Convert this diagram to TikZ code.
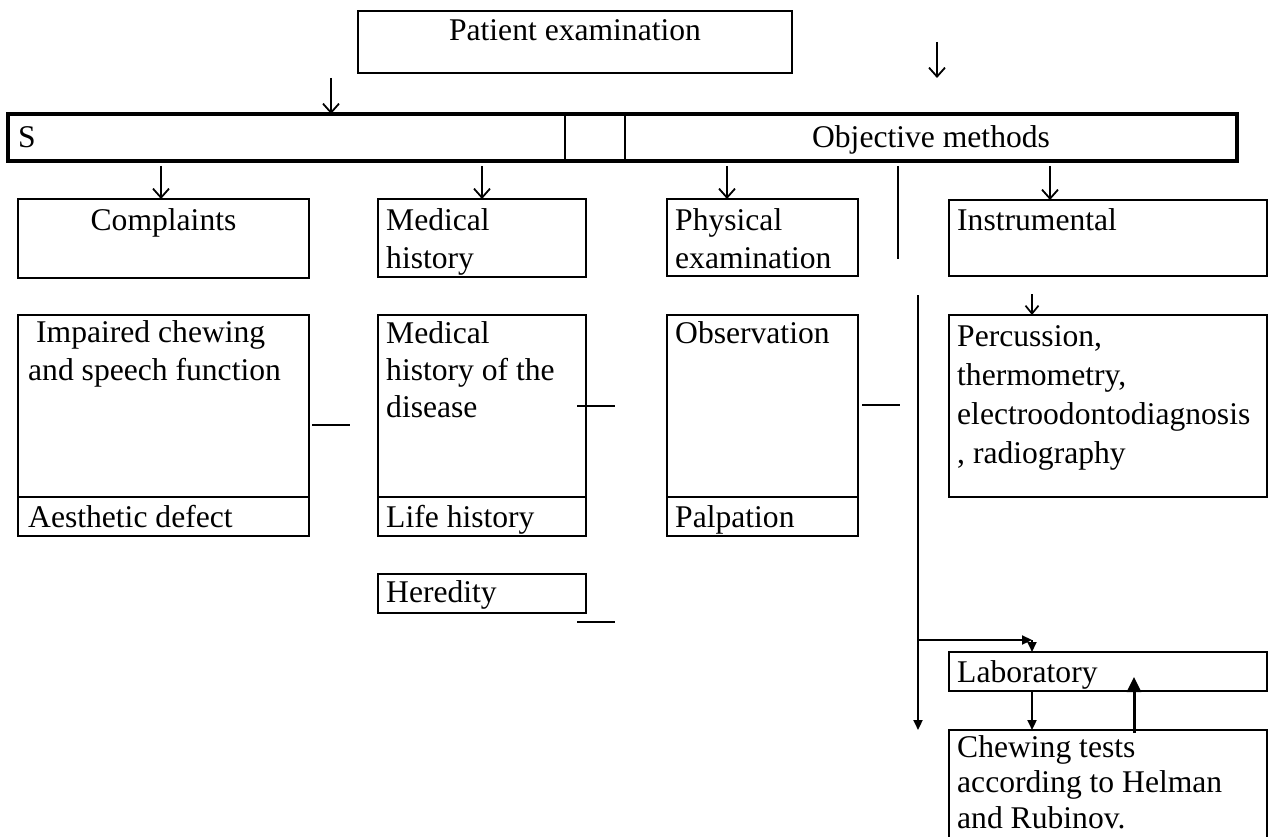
\documentclass[tikz,border=0pt]{standalone}
\usepackage{fontspec}
\setmainfont{Liberation Serif}
\usetikzlibrary{arrows.meta,calc}
\begin{document}
\begin{tikzpicture}[x=1pt,y=-1pt,
  box/.style={draw, line width=2pt, anchor=north west, inner sep=0pt, outer sep=0pt},
  txt/.style={anchor=base west, inner sep=0pt, align=left, font=\fontsize{31.6}{38}\selectfont},
  ctxt/.style={txt, anchor=base},
  varr/.style={line width=1.8pt, -{Straight Barb[length=9pt,width=16pt]}},
  sarr/.style={line width=1.7pt, -{Straight Barb[length=8pt,width=13pt]}},
  tarr/.style={line width=2.2pt, -{Triangle[length=10pt,width=9pt]}},
  uarr/.style={line width=3pt, -{Triangle[length=15pt,width=14pt]}},
  dashln/.style={line width=2.2pt},
]
\path[use as bounding box] (0,0) rectangle (1274,837);
\clip (0,0) rectangle (1274,837);

% top box
\node[box, minimum width=434pt, minimum height=62pt] (pat) at (358,11) {};
\node[ctxt] (patT) at (575,41) {Patient examination};

% main bar
\node[box, line width=3.5pt, minimum width=1229pt, minimum height=47pt] (bar) at (8,114) {};
\coordinate (dv1) at (565,114);
\coordinate (dv2) at (625,114);
\draw[line width=2pt] (dv1) -- (dv1 |- bar.south);
\draw[line width=2pt] (dv2) -- (dv2 |- bar.south);
\node[txt] (sT) at (18,148) {S};
\node[ctxt] (objT) at (931,148) {Objective methods};

% top arrows
\coordinate (ra1) at (937,42);
\coordinate (ra2) at (937,78);
\draw[varr] (ra1) -- (ra2);
\coordinate (la1) at (331,78);
\draw[varr] (la1) -- (la1 |- bar.north);

% first row boxes
\node[box, minimum width=291pt, minimum height=79pt] (cmp) at (18,199) {};
\node[box, minimum width=208pt, minimum height=78pt] (mh) at (378,199) {};
\node[box, minimum width=191pt, minimum height=77pt] (pe) at (667,199) {};
\node[box, minimum width=318pt, minimum height=76pt] (ins) at (949,200) {};
\node[ctxt] (cmpT) at (163.5,230) {Complaints};
\node[txt] (mhT) at (386,268) {Medical\\history};
\node[txt] (peT) at (675,268) {Physical\\examination};
\node[txt] (insT) at (957,230) {Instrumental};

% arrows from bar
\coordinate (a1) at (161,166);
\coordinate (a2) at (482,166);
\coordinate (a3) at (727,166);
\coordinate (a4) at (1050,166);
\draw[varr] (a1) -- (a1 |- cmp.north);
\draw[varr] (a2) -- (a2 |- mh.north);
\draw[varr] (a3) -- (a3 |- pe.north);
\draw[varr] (a4) -- (a4 |- ins.north);
\coordinate (vl1) at (898,166);
\coordinate (vl2) at (898,259);
\draw[line width=2.2pt] (vl1) -- (vl2);

% second row
\node[box, minimum width=291pt, minimum height=182pt] (imp) at (18,315) {};
\node[box, minimum width=291pt, minimum height=39pt] (impB) at (18,497) {};
\node[box, minimum width=208pt, minimum height=182pt] (mhd) at (378,315) {};
\node[box, minimum width=208pt, minimum height=39pt] (mhdB) at (378,497) {};
\node[box, minimum width=191pt, minimum height=182pt] (obs) at (667,315) {};
\node[box, minimum width=191pt, minimum height=39pt] (obsB) at (667,497) {};
\node[box, minimum width=318pt, minimum height=182pt] (per) at (949,315) {};
\node[box, minimum width=208pt, minimum height=39pt] (her) at (378,574) {};
\node[box, minimum width=318pt, minimum height=39pt] (lab) at (949,652) {};
\node[box, minimum width=318pt, minimum height=130pt] (chw) at (949,730) {};

\node[txt] (impT) at (28,380) {\hspace*{8pt}Impaired chewing\\and speech function};
\node[txt] (impBT) at (28,527) {Aesthetic defect};
\node[txt, font=\fontsize{31.6}{37}\selectfont] (mhdT) at (386,417) {Medical\\history of the\\disease};
\node[txt] (mhdBT) at (386,527) {Life history};
\node[txt] (obsT) at (675,343) {Observation};
\node[txt] (obsBT) at (675,527) {Palpation};
\node[txt, font=\fontsize{31.6}{38.7}\selectfont] (perT) at (957,463) {Percussion,\\thermometry,\\electroodontodiagnosis\\, radiography};
\node[txt] (herT) at (386,602) {Heredity};
\node[txt] (labT) at (957,682) {Laboratory};
\node[txt, font=\fontsize{31.6}{35.5}\selectfont] (chwT) at (957,828) {Chewing tests\\according to Helman\\and Rubinov.};

% short dashes
\draw[dashln] (312,425) -- (350,425);
\draw[dashln] (577,406) -- (615,406);
\draw[dashln] (862,405) -- (900,405);
\draw[dashln] (577,622) -- (615,622);

% right side connectors
\coordinate (pa) at (1032,294);
\draw[sarr] (pa) -- (pa |- per.north);
\coordinate (vt) at (918,295);
\coordinate (vb) at (918,730);
\draw[tarr] (vt) -- (vb);
\coordinate (bj) at (918,640);
\coordinate (bk) at (1032,640);
\draw[tarr] (bj) -- (bk);
\draw[tarr, line width=1.8pt] (bk) -- (bk |- lab.north);
\coordinate (lc) at (1032,700);
\draw[tarr] (lab.south -| lc) -- (chw.north -| lc);
\coordinate (ul) at (1134,700);
\draw[uarr] ($(chw.north -| ul)+(0,3)$) -- ($(lab.south -| ul)+(0,-14)$);
\end{tikzpicture}
\end{document}
